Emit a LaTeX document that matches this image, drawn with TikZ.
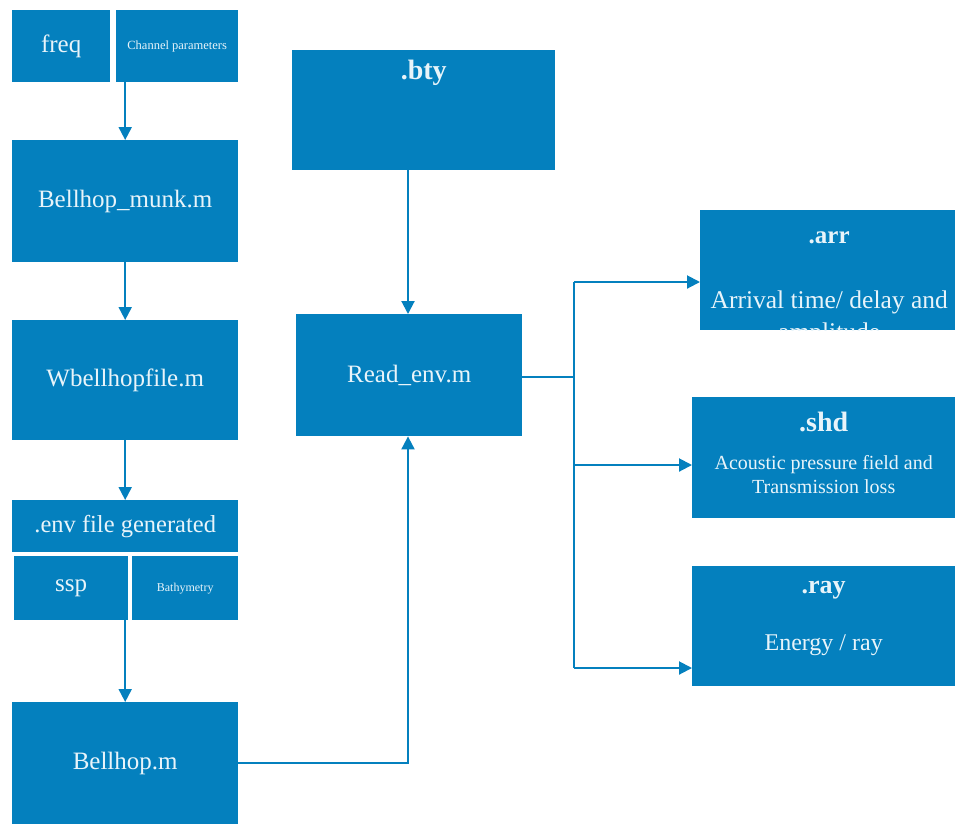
\documentclass[tikz,border=0pt]{standalone}
\usepackage{fontspec}
\setmainfont{Liberation Serif}
\usetikzlibrary{arrows.meta,calc}
\definecolor{boxblue}{RGB}{4,128,190}
\definecolor{boxtext}{RGB}{232,244,250}
\begin{document}
\begin{tikzpicture}[x=1pt,y=-1pt,
  box/.style={fill=boxblue,draw=none,text=boxtext,anchor=north west,inner sep=0pt,align=center},
  lbl/.style={text=boxtext,inner sep=0pt,align=center},
  big/.style={font=\fontsize{25}{28}\selectfont},
  head/.style={font=\bfseries\fontsize{28}{30}\selectfont},
  flow/.style={draw=boxblue,line width=2pt,-{Triangle[length=13pt,width=13pt]}},
  link/.style={draw=boxblue,line width=2pt}]
\useasboundingbox[fill=white] (0,0) rectangle (955,823);

% left column
\node[box,big,minimum width=98pt,minimum height=72pt] (freq) at (12,10) {freq};
\node[box,minimum width=122pt,minimum height=72pt,font=\fontsize{12.5}{14}\selectfont] (chan) at (116,10) {Channel parameters};
\node[box,big,minimum width=226pt,minimum height=122pt] (munk) at (12,140) {Bellhop\_munk.m};
\node[box,big,minimum width=226pt,minimum height=120pt] (wfile) at (12,320) {Wbellhopfile.m};
\node[box,minimum width=226pt,minimum height=52pt,font=\fontsize{24.5}{27}\selectfont] (env) at (12,500) {.env file generated};
\node[box,big,minimum width=114pt,minimum height=64pt] (ssp) at (14,556) {ssp};
\node[box,minimum width=106pt,minimum height=64pt,font=\fontsize{12}{14}\selectfont] (bathy) at (132,556) {Bathymetry};
\node[box,big,minimum width=226pt,minimum height=122pt] (bellhop) at (12,702) {Bellhop.m};

% middle column
\node[box,minimum width=263pt,minimum height=120pt] (bty) at (292,50) {};
\node[lbl,head] (btyl) at ($(bty.north)+(0,23)$) {.bty};
\node[box,big,minimum width=226pt,minimum height=122pt] (readenv) at (296,314) {Read\_env.m};

% right column
\node[box,minimum width=258pt,minimum height=120pt] (arr) at (700,210) {};
\begin{scope}
  \clip (arr.north west) rectangle (arr.south east);
  \node[lbl,font=\bfseries\fontsize{25}{28}\selectfont] (arrl) at ($(arr.north)+(0,28)$) {.arr};
  \node[lbl,font=\fontsize{25.5}{32}\selectfont,anchor=north] (arrt) at ($(arr.north)+(0,81)$) {Arrival time/ delay and\\amplitude};
\end{scope}
\node[box,minimum width=263pt,minimum height=121pt] (shd) at (692,397) {};
\node[lbl,head] (shdl) at ($(shd.north)+(0,25)$) {.shd};
\node[lbl,font=\fontsize{20}{24}\selectfont] (shdt) at ($(shd.north)+(0,78)$) {Acoustic pressure field and\\Transmission loss};
\node[box,minimum width=263pt,minimum height=120pt] (ray) at (692,566) {};
\node[lbl,font=\bfseries\fontsize{26}{28}\selectfont] (rayl) at ($(ray.north)+(0,24)$) {.ray};
\node[lbl,font=\fontsize{24}{26}\selectfont] (rayt) at ($(ray.north)+(0,79)$) {Energy / ray};

% connectors
\coordinate (mainx) at (408,0);
\draw[flow] (chan.south -| munk.north) -- (munk.north);
\draw[flow] (munk.south) -- (wfile.north);
\draw[flow] (wfile.south) -- (env.north);
\draw[flow] (ssp.south -| bellhop.north) -- (bellhop.north);
\draw[flow] (bellhop.east) -| (readenv.south -| mainx);
\draw[flow] (bty.south -| mainx) -- (readenv.north -| mainx);

\coordinate (split) at (574,377);
\coordinate (top) at (574,282);
\coordinate (mid) at (574,465);
\coordinate (bot) at (574,668);
\draw[link] (readenv.east |- split) -- (split);
\draw[link] (top) -- (bot);
\draw[flow] (top) -- (top -| arr.west);
\draw[flow] (mid) -- (mid -| shd.west);
\draw[flow] (bot) -- (bot -| ray.west);
\end{tikzpicture}
\end{document}
